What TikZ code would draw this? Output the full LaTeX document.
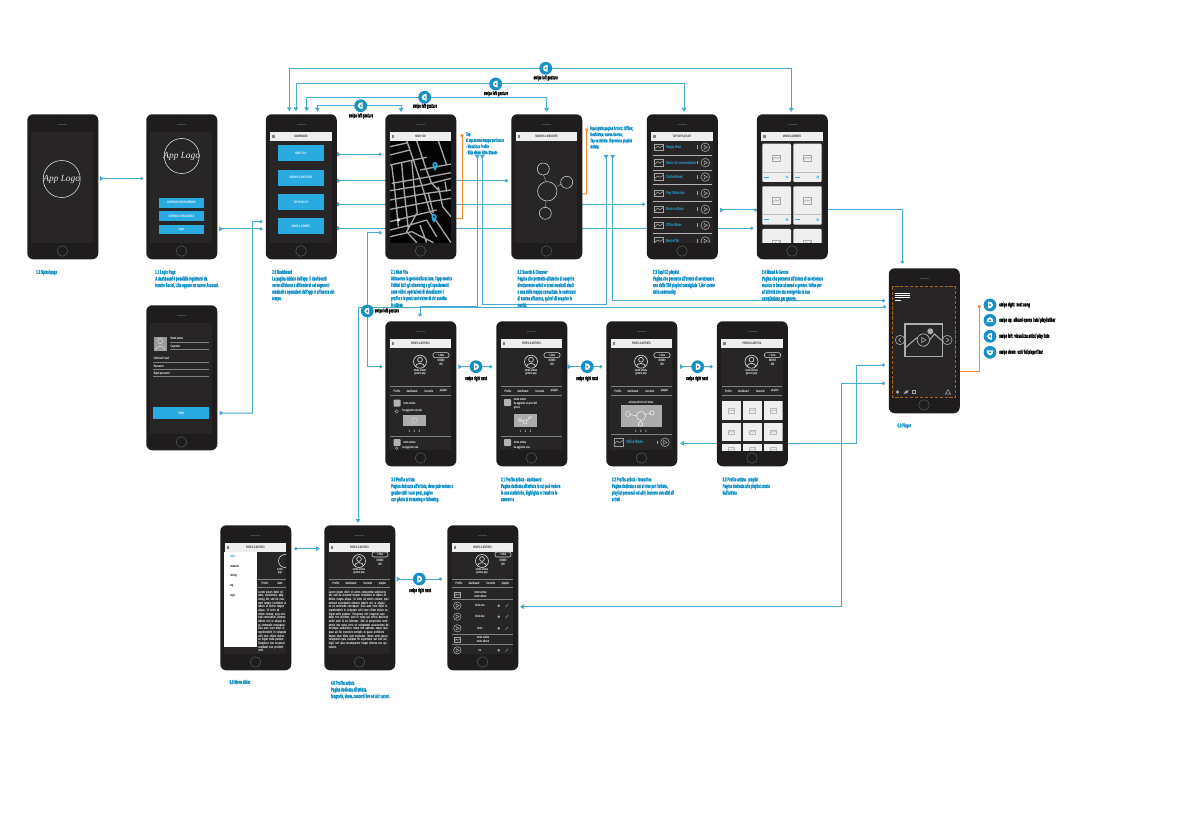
\documentclass[tikz,border=0pt]{standalone}
\usepackage{fontspec}
\setmainfont{Liberation Sans}
\newfontfamily\cf[FakeStretch=0.62]{Liberation Sans}
\newfontfamily\cfn[FakeStretch=0.5,BoldFeatures={FakeStretch=0.5,FakeBold=0.6}]{Liberation Sans}
\newfontfamily\logofont{Liberation Serif}
\usetikzlibrary{arrows.meta}
\pgfdeclarelayer{bg}\pgfsetlayers{bg,main}
\definecolor{body}{HTML}{1E1C1D}
\definecolor{scr}{HTML}{272526}
\definecolor{lineb}{HTML}{45ABD3}
\definecolor{capb}{HTML}{0E8FC8}
\definecolor{btn}{HTML}{29ABE2}
\definecolor{badgeb}{HTML}{1690C5}
\definecolor{orng}{HTML}{F28C28}
\definecolor{hdr}{HTML}{EEEEEE}
\definecolor{tile}{HTML}{EFEFEF}
\newcounter{lbc}
\tikzset{
  phonebody/.style={fill=body,rounded corners=4.5pt,minimum width=53.25pt,minimum height=108.75pt,inner sep=0pt,anchor=north west,draw=none},
  conn/.style={draw=lineb,line width=.75pt},
  tiprc/.style={{Triangle[reversed,length=3pt,width=3.4pt]}-{Circle[length=2.4pt]}},
  tipnc/.style={{Triangle[length=3pt,width=3.4pt]}-{Circle[length=2.4pt]}},
  tiptt/.style={{Triangle[length=3pt,width=3.4pt]}-{Triangle[length=3pt,width=3.4pt]}},
  tiprt/.style={{Triangle[reversed,length=3pt,width=3.4pt]}-{Triangle[reversed,length=3pt,width=3.4pt]}},
  tipct/.style={{Circle[length=2.4pt]}-{Triangle[length=3pt,width=3.4pt]}},
  tipcc/.style={{Circle[length=2.4pt]}-{Circle[length=2.4pt]}},
  tipcr/.style={{Circle[length=2.4pt]}-{Triangle[reversed,length=3pt,width=3.4pt]}},
  oconn/.style={draw=orng,line width=.75pt},
  caption/.style={anchor=north west,inner sep=0pt,align=left,text=capb,font=\cfn\bfseries\fontsize{4.3}{4.95}\selectfont},
  note/.style={anchor=north west,inner sep=0pt,align=left,text=capb,font=\cfn\bfseries\fontsize{3.9}{4.6}\selectfont},
  swipe/.style={inner sep=0pt,text=black,font=\cfn\bfseries\fontsize{4.3}{5}\selectfont},
  badgest/.style={circle,fill=badgeb,minimum size=9.6pt,inner sep=0pt},
  lb/.style={inner sep=0pt,font=\cf\bfseries\fontsize{2.5}{3}\selectfont},
  logotxt/.style={inner sep=0pt,text=white!90!black,font=\logofont\itshape\fontsize{7}{8}\selectfont},
  loremst/.style={anchor=north west,inner sep=0pt,text=white,font=\cf\bfseries\fontsize{2.65}{2.75}\selectfont,align=left},
}
% position from the north-west corner of a phone, in reference pixels
\newcommand{\Pt}[3]{([shift={(#2,#3)}]#1.north west)}
\newcommand{\lbl}[4][]{\stepcounter{lbc}\node[lb,#1] (lab\thelbc) at ({#2},{#3}) {#4};}
\newcommand{\phone}[3]{%
  \node[phonebody] (#1) at (#2,#3) {};
  \begin{scope}[shift={(#2,#3)}]
    \fill[scr] (4.2,18.3) rectangle (66.2,129);
    \fill[black!70!body] (35.5,5) circle (.5);
    \draw[black!45!gray,line width=.4pt] (31,10) -- (40,10);
    \fill[black!45!gray] (27,10) circle (.4);
    \draw[black!30!gray,line width=.4pt] (35.5,137) circle (5.3);
  \end{scope}}
\newcommand{\header}[1]{%
  \fill[hdr] (4.5,18.3) rectangle (66,26.7);
  \fill[gray] (6.5,21) rectangle (9,24.2);
  \lbl[text=black!85]{35.5}{22.6}{#1}}
\newcommand{\imgic}[5]{% x y w h colour : centre
  \begin{scope}[shift={({#1},{#2})}]
    \draw[#5,line width=.45pt] (-#3,-#4) rectangle (#3,#4);
    \draw[#5,line width=.45pt] (-#3,#4*.45) -- (-#3*.3,-#4*.3) -- (#3*.2,#4*.1) -- (#3,-#4*.5);
  \end{scope}}
\newcommand{\playic}[4]{%
  \draw[#4,line width=.45pt] (#1,#2) circle (#3);
  \draw[#4,line width=.4pt] (#1-#3*.3,#2-#3*.45) -- (#1+#3*.5,#2) -- (#1-#3*.3,#2+#3*.45) -- cycle;}
% #1 vertical offset of the avatar block, #2 and #3 the rules round the tabs
\newcommand{\profile}[3]{%
  \header{PROFILO ARTISTA}
  \begin{scope}[shift={(0,#1)}]
  \draw[white!85!black,line width=.5pt] (35,40.7) circle (6.5);
  \draw[white!85!black,line width=.5pt] (35,38.7) circle (2.4);
  \draw[white!85!black,line width=.5pt] (30.5,45.7) arc (180:360:4.5 and 3.4);
  \draw[white!85!black,line width=.4pt,rounded corners=1.5pt] (48,31.7) rectangle (64,36.7);
  \lbl[text=white]{56}{34.2}{+ Ama}
  \lbl[text=white]{56}{39.7}{000000}
  \lbl[text=white]{56}{43.7}{000}
  \lbl[text=white]{35}{49}{nome artista}
  \lbl[text=white]{35}{53}{genere pop}
  \end{scope}
  \draw[gray,line width=.4pt] (5,#2) -- (65.5,#2);
  \draw[gray,line width=.4pt] (5,#3) -- (65.5,#3);
  \lbl[text=white,align=center]{12}{(#2+#3)/2}{Profilo}
  \lbl[text=white,align=center]{27}{(#2+#3)/2}{dashboard}
  \lbl[text=white,align=center]{44}{(#2+#3)/2}{favourite}
  \lbl[text=white,align=center]{58.5}{(#2+#3)/2}{playlist}}
\newcommand{\badge}[4]{%
  \node[badgest] (#1) at (#2,#3) {};
  \begin{scope}[shift={(#2,#3)},rotate=#4]
    \fill[white] (-1.9,-3.5) arc (-90:90:5 and 3.5) -- cycle;
    \fill[badgeb] (-.7,-1.6) -- (1.1,0) -- (-.7,1.6) -- cycle;
  \end{scope}}
\newcommand{\loremtxt}{Lorem ipsum dolor sit amet, consectetur adipiscing elit, sed do eiusmod tempor incididunt ut labore et dolore magna aliqua. Ut enim ad minim veniam, quis nostrud exercitation ullamco laboris nisi ut aliquip ex ea commodo consequat. Duis aute irure dolor in reprehenderit in voluptate velit esse cillum dolore eu fugiat nulla pariatur. Excepteur sint occaecat cupidatat non proident, sunt in culpa qui officia deserunt mollit anim id est laborum. Sed ut perspiciatis unde omnis iste natus error sit voluptatem accusantium doloremque laudantium, totam rem aperiam, eaque ipsa quae ab illo inventore veritatis et quasi architecto beatae vitae dicta sunt explicabo. Nemo enim ipsam voluptatem quia voluptas sit aspernatur aut odit aut fugit, sed quia consequuntur magni dolores eos qui ratione.}
\newcommand{\loremshort}{Lorem ipsum dolor sit amet, consectetur adipiscing elit, sed do eiusmod tempor incididunt ut labore et dolore magna aliqua. Ut enim ad minim veniam, quis nostrud exercitation ullamco laboris nisi ut aliquip ex ea commodo consequat. Duis aute irure dolor in reprehenderit in voluptate velit esse cillum dolore eu fugiat nulla pariatur. Excepteur sint occaecat cupidatat non proident sunt.}
\begin{document}
\begin{tikzpicture}[x=.75pt,y=-.75pt]
\useasboundingbox (0,0) rectangle (1200,813);
\begin{pgfonlayer}{bg}
\fill[white] (0,0) rectangle (1200,813);
\end{pgfonlayer}

% ---------- phones ----------
\phone{splash}{27}{114}
\phone{login}{146}{114}
\phone{reg}{146}{305}
\phone{dash}{265.5}{114}
\phone{near}{385}{114}
\phone{search}{511}{114}
\phone{top}{646.5}{114}
\phone{mixed}{756.5}{114}
\phone{player}{888.5}{268}
\phone{pa}{385}{321}
\phone{pb}{496}{321}
\phone{pc}{606}{321}
\phone{pd}{716.5}{321}
\phone{menu}{220}{525}
\phone{bio}{324}{525}
\phone{list}{447}{525}

% splash
\begin{scope}[shift={(27,114)}]
  \draw[white!85!black,line width=.45pt] (34.7,65) circle (18.5);
  \node[logotxt] (splogo) at (34.7,65) {App Logo};
\end{scope}
% login
\begin{scope}[shift={(146,114)}]
  \draw[white!85!black,line width=.45pt] (35.7,42) circle (17.5);
  \node[logotxt] (lglogo) at (35.7,42) {App Logo};
  \fill[btn] (12.7,83.7) rectangle (58,93.7);
  \fill[btn] (12.7,97.3) rectangle (58,107);
  \fill[btn] (12.7,110.7) rectangle (58,120.3);
  \lbl[text=white]{35.4}{88.7}{CONTINUA CON FACEBOOK}
  \lbl[text=white]{35.4}{102.2}{CONTINUA CON GOOGLE}
  \lbl[text=white]{35.4}{115.5}{Login}
\end{scope}
% registration
\begin{scope}[shift={(146,305)}]
  \fill[gray!80] (8,31.7) rectangle (20.7,45.7);
  \draw[gray!30,line width=.4pt] (14.3,36) circle (2.6);
  \draw[gray!30,line width=.4pt] (9.5,45.5) arc (180:360:4.8 and 4.5);
  \foreach \yy/\xa in {37/24,44.7/24,57/7,64/7,71/7}{\draw[gray,line width=.35pt] (\xa,\yy) -- (63,\yy);}
  \lbl[text=white,anchor=west]{24.3}{33.5}{Nome utente}
  \lbl[text=white,anchor=west]{24.3}{41.5}{Cognome}
  \lbl[text=white,anchor=west]{7.5}{53.5}{Indirizzo E-mail}
  \lbl[text=white,anchor=west]{7.5}{61.5}{Password}
  \lbl[text=white,anchor=west]{7.5}{68.5}{Ripeti password}
  \fill[btn] (7.3,102) rectangle (63.3,114);
  \lbl[text=white]{35.3}{108}{CREA}
\end{scope}
% dashboard
\begin{scope}[shift={(265.5,114)}]
  \header{DASHBOARD}
  \fill[btn] (12.5,31.3) rectangle (58,47.3);
  \fill[btn] (12.5,55.7) rectangle (58,71.7);
  \fill[btn] (12.5,80) rectangle (58,96);
  \fill[btn] (12.5,104.3) rectangle (58,120.3);
  \lbl[text=white]{35.3}{39.3}{NEAR YOU}
  \lbl[text=white]{35.3}{63.7}{SEARCH \& DISCOVER}
  \lbl[text=white]{35.3}{88}{TOP PLAYLIST}
  \lbl[text=white]{35.3}{112.3}{MIXED \& GENRES}
\end{scope}
% near you (map drawn in crop pixels)
\begin{scope}[shift={(385,114)}]
  \header{NEAR YOU}
  \begin{scope}[shift={(-125,-64)},x=.25pt,y=-.25pt]
    \fill[black!85!body] (390,272) rectangle (573,578);
    \begin{scope}
      \clip (390,272) rectangle (573,578);
      \draw[gray!70,line width=1pt,line join=round]
        (390,290) -- (445,278)
        (390,315) -- (450,300)
        (390,345) -- (460,330) -- (500,322)
        (440,272) -- (462,335) -- (482,395) -- (510,485) -- (573,578)
        (470,272) -- (500,362) -- (515,400) -- (535,420)
        (535,272) -- (560,345)
        (480,360) -- (573,342)
        (395,400) -- (482,385) -- (573,368)
        (390,422) -- (495,405) -- (573,385)
        (390,450) -- (500,430) -- (573,420)
        (390,478) -- (510,455) -- (573,445)
        (390,515) -- (470,495) -- (530,480)
        (395,345) -- (402,400) -- (410,478) -- (415,530)
        (425,340) -- (432,420) -- (440,490) -- (445,540)
        (455,330) -- (462,410) -- (472,490)
        (505,430) -- (520,490)
        (535,410) -- (548,470) -- (573,500)
        (555,395) -- (560,425)
        (390,540) -- (450,525) -- (500,510)
        (390,560) -- (455,545) -- (520,578)
        (470,490) -- (440,545) -- (470,578)
        (480,525) -- (500,578)
        (500,510) -- (530,560);
      \fill[white] (415,510) circle (5);
    \end{scope}
  \end{scope}
  \fill[btn] (50,57) .. controls (46.5,52) and (46.5,48) .. (50,48) .. controls (53.5,48) and (53.5,52) .. (50,57);
  \fill[scr] (50,50.8) circle (1.1);
  \fill[btn] (49,109) .. controls (45.5,104) and (45.5,100) .. (49,100) .. controls (52.5,100) and (52.5,104) .. (49,109);
  \fill[scr] (49,102.8) circle (1.1);
\end{scope}
% search
\begin{scope}[shift={(511,114)}]
  \header{SEARCH \& DISCOVER}
  \draw[gray!60,line width=.3pt] (32.5,61) -- (35,67.5) (46,72) -- (50.5,70) (35,87) -- (34.5,93.5);
  \draw[white!85!black,line width=.4pt] (36.3,77.3) circle (9.7);
  \draw[white!85!black,line width=.4pt] (32.3,55) circle (6);
  \draw[white!85!black,line width=.4pt] (55.7,68.3) circle (6);
  \draw[white!85!black,line width=.4pt] (34.3,99.3) circle (6);
\end{scope}
% top playlist
\begin{scope}[shift={(646.5,114)}]
  \header{TOP ICE PLAYLIST}
  \begin{scope}
  \clip (4.2,26.7) rectangle (66.2,129);
  \foreach \yy/\ttl in {33.3/Happy Hour,48.7/Music for concentration,63/Coffee Break,79.3/Pop Collection,95.3/Rock on Bass,111.3/Office Blues,127/Best of 90}{
    \imgic{12.5}{\yy}{4.3}{3.4}{gray!70}
    \stepcounter{lbc}
    \node[inner sep=0pt,anchor=west,text=btn,font=\cf\bfseries\fontsize{3.2}{4}\selectfont] (lab\thelbc) at (19.5,\yy) {\ttl};
    \draw[gray!70,line width=.35pt] (50.8,\yy-1.8) -- (50.8,\yy+1.8);
    \playic{58.8}{\yy}{4.3}{gray!70}
    \draw[gray!60,line width=.3pt] (6,\yy+7.5) -- (65,\yy+7.5);
  }
  \end{scope}
\end{scope}
% mixed
\begin{scope}[shift={(756.5,114)}]
  \header{MIXED \& GENRES}
  \begin{scope}
  \clip (4.2,26.7) rectangle (66.2,128.3);
  \foreach \xa/\xb in {5.8/34.5,36.8/65.2}{
    \foreach \ya/\yb in {29.7/68,72.3/110.7,115/145}{
      \fill[tile,rounded corners=.8pt] (\xa,\ya) rectangle (\xb,\yb);
      \imgic{(\xa+\xb)/2}{\ya+14.5}{4}{3.2}{gray!70}
      \draw[gray!50,line width=.25pt] (\xa,\ya+28) -- (\xb,\ya+28);
      \fill[btn] (\xa+1.5,\ya+32.9) rectangle (\xa+7,\ya+33.8);
      \draw[btn,line width=.3pt] (\xb-4,\ya+33.4) circle (1.2);
    }
  }
  \end{scope}
\end{scope}
% player
\begin{scope}[shift={(888.5,268)}]
  \draw[orng!70!black,dash pattern=on 2.5pt off 1.2pt,line width=.35pt] (3.8,18.7) rectangle (66.5,129.3);
  \foreach \yy in {25.3,26.9,28.5}{\fill[white] (6.5,\yy) rectangle (21.5,\yy+.9);}
  \fill[white] (6.5,32) rectangle (12,33);
  \draw[gray!65,line width=.8pt] (16.5,56) rectangle (53.8,88.7);
  \draw[gray!65,line width=.8pt] (16.5,80) -- (28,70) -- (36,78) -- (46,66) -- (53.8,73);
  \fill[gray!65] (41.8,63.3) circle (3);
  \fill[scr] (34.8,72) circle (6.2);
  \draw[gray!70,line width=.6pt] (34.8,72) circle (6.2);
  \draw[gray!70,line width=.5pt] (33.3,69.5) -- (37.3,72) -- (33.3,74.5) -- cycle;
  \fill[scr] (11.5,72) circle (4.7);
  \draw[gray!70,line width=.5pt] (11.5,72) circle (4.7);
  \draw[gray!70,line width=.5pt] (12.5,70) -- (10,72) -- (12.5,74);
  \fill[scr] (58.8,72) circle (4.7);
  \draw[gray!70,line width=.5pt] (58.8,72) circle (4.7);
  \draw[gray!70,line width=.5pt] (57.8,70) -- (60.3,72) -- (57.8,74);
  \fill[gray!70] (9,124) circle (1.8);
  \fill[gray!70] (17,123) -- (20,122) -- (19,125) -- (15,126) -- cycle;
  \draw[gray!70,line width=.3pt] (24,122.5) rectangle (27,125);
  \draw[gray!70,line width=.4pt] (57,126) -- (59.5,121.5) -- (62,126) -- cycle;
\end{scope}
% profile screens
\begin{scope}[shift={(385,321)}]
  \profile{0}{65}{74.7}
  \fill[gray!60,rounded corners=.6pt] (8.5,78.5) rectangle (15.5,85.5);
  \draw[gray!60,line width=.3pt] (11.7,90.5) circle (1.7);
  \lbl[text=white,anchor=west]{18}{82}{nome utente}
  \lbl[text=white,anchor=west]{17}{89.5}{ha aggiunto un post}
  \fill[gray!65] (18.3,94) rectangle (41,105);
  \draw[gray!30,line width=.3pt] (29.6,99.5) circle (2.7);
  \lbl[text=white]{29.5}{110}{1 \quad 2 \quad 3}
  \draw[gray,line width=.35pt] (5,115) -- (65.5,115);
  \fill[gray!60,rounded corners=.6pt] (8.5,118) rectangle (15.5,125);
  \lbl[text=white,anchor=west]{18}{121.5}{nome artista}
  \draw[gray!60,line width=.3pt] (11.7,127.3) circle (1.3);
  \lbl[text=white,anchor=west]{17}{127}{ha aggiunto una}
\end{scope}
\begin{scope}[shift={(496,321)}]
  \profile{0}{65}{74.7}
  \fill[gray!60,rounded corners=.6pt] (8,78) rectangle (15,85);
  \lbl[text=white,anchor=west,align=left]{17.5}{83}{nome utente\\ha aggiunto un post del\\giorno}
  \fill[gray!65] (18,93.3) rectangle (40.7,105.7);
  \draw[white,line width=.25pt] (24,99) circle (1.6) (29,101) circle (2) (34,96.5) circle (1.5) (25.5,99.5) -- (27,100.5) (30.5,99.5) -- (33,97.5);
  \lbl[text=white]{29.5}{110}{1 \quad 2 \quad 3}
  \draw[gray,line width=.35pt] (5,115) -- (65.5,115);
  \fill[gray!60,rounded corners=.6pt] (8,118) rectangle (15,125);
  \lbl[text=white,anchor=west]{17.5}{121.5}{nome artista}
  \lbl[text=white,anchor=west]{17.5}{127}{ha aggiunto una}
\end{scope}
\begin{scope}[shift={(606,321)}]
  \profile{0}{65}{74.7}
  \lbl[text=white]{35}{81.5}{artista preferito del mese}
  \fill[gray!65] (15,84) rectangle (55.7,105.7);
  \draw[white,line width=.3pt] (22,93) circle (2.5) (35,95) circle (4.5) (46,92) circle (2.2) (34.5,103) circle (2.2) (24.5,93.5) -- (30.5,95) (39,93.5) -- (44,92.3) (35,99.5) -- (34.7,100.8);
  \lbl[text=white]{35}{110}{1 \quad 2 \quad 3}
  \draw[gray,line width=.35pt] (5,113) -- (65.5,113);
  \imgic{12.5}{121.3}{4.5}{3.6}{gray!80}
  \node[inner sep=0pt,anchor=west,text=btn,font=\cf\bfseries\fontsize{3.5}{4}\selectfont] (offblue) at (20,121.3) {Office Blues};
  \draw[gray!70,line width=.35pt] (50.8,119.5) -- (50.8,123.1);
  \playic{59}{121.3}{4.3}{gray!70}
\end{scope}
\begin{scope}[shift={(716.5,321)}]
  \profile{0}{65}{74.7}
  \begin{scope}
  \clip (4.2,74.9) rectangle (66.2,129);
  \foreach \xa/\xb in {5.2/24.5,26.2/45.5,47.5/66.5}{
    \foreach \ya/\yb in {80.3/99,101.7/120.3,122.7/135}{
      \fill[tile] (\xa,\ya) rectangle (\xb,\yb);
      \imgic{(\xa+\xb)/2}{(\ya+\yb)/2}{2.8}{2.2}{gray!55}
    }
  }
  \end{scope}
\end{scope}
% biography
\begin{scope}[shift={(324,525)}]
  \profile{-4.7}{54.3}{62.3}
  \node[loremst,text width=45.5pt] (biotxt) at (4.5,65.5) {\loremtxt};
\end{scope}
% side menu over the profile
\begin{scope}[shift={(220,525)}]
  \header{PROFILO ARTISTA}
  \begin{scope}
    \clip (36.7,26.7) rectangle (66.2,129);
    \draw[white!85!black,line width=.5pt] (65,36) circle (6.5);
  \end{scope}
  \lbl[text=white]{60}{44.3}{nome}
  \lbl[text=white]{60}{48.3}{pop}
  \draw[gray,line width=.4pt] (36.7,54.3) -- (65.5,54.3) (36.7,62.3) -- (65.5,62.3);
  \lbl[text=white]{45}{58.3}{Profilo}
  \lbl[text=white]{60}{58.3}{dash}
  \node[loremst,text width=21.5pt] (menutxt) at (38,65.5) {\loremshort};
  \fill[white] (4.3,26.7) rectangle (36.7,121.7);
  \lbl[text=capb,anchor=west]{10}{31}{radio}
  \lbl[text=black,anchor=west]{10}{41}{weekend}
  \lbl[text=black,anchor=west]{10}{51}{mixing}
  \lbl[text=black,anchor=west]{10}{61}{top}
  \lbl[text=black,anchor=west]{10}{71}{style}
\end{scope}
% album list
\begin{scope}[shift={(447,525)}]
  \profile{-4.7}{54.3}{62.3}
  \imgic{10.3}{70}{3}{2.5}{gray!70}
  \lbl[text=white,anchor=west,align=left]{27}{69.5}{nome artista\\nome album}
  \draw[gray,line width=.35pt] (5,74.3) -- (65.5,74.3) (5,109) -- (65.5,109) (5,119.3) -- (65.5,119.3);
  \foreach \yy/\ttl in {80.7/titolo uno,91.7/titolo due,103.3/titolo,125.3/tre}{
    \playic{10.3}{\yy}{3.7}{gray!70}
    \lbl[text=white]{33}{\yy}{\ttl}
    \fill[gray!70] (51.7,\yy) circle (1.4);
    \draw[gray!70,line width=.3pt] (58.5,\yy+1.5) -- (61,\yy-1.5);
  }
  \imgic{10.3}{115}{3}{2.5}{gray!70}
  \lbl[text=white,align=center]{36}{114}{nome artista\\nome album}
\end{scope}

% ---------- captions ----------
\node[caption] (capsplash) at (36,269.5) {1.0 Splashpage};
\node[caption] (caplogin) at (155,269.5) {1.1 Login Page\\A dashboard è possibile registrarsi da\\tramite Social, Like oppure un nuovo Account.};
\node[caption] (capdash) at (272,269.5) {2.0 Dashboard\\La pagina iniziale dell'app: il dashboard\\serve all'utente a diffondersi nei segmenti\\musicali e operazioni dell'app in affluenza del\\tempo.};
\node[caption] (capnear) at (390.7,269.5) {2.1 Near You\\Attraverso la geolocalizzazione, l'app mostra\\l'ultimi tutti gli streaming e gli spostamenti\\zone vicini, operazioni di visualizzare il\\profilo e le posizioni vicine di chi ascolta\\in attesa};
\node[caption] (capsearch) at (517.3,269.5) {2.2 Search \& Discover\\Pagina che permette all'utente di scoprire\\direttamente artisti e brani musicali simili\\a una delle mappe consultate, le costruisci\\di scarsa affluenza, quindi di scoprire le\\novità.};
\node[caption] (captop) at (652.7,269.5) {2.3 Top/ICE playlist\\Pagina che permette all'utente di selezionare\\una delle 100 playlist consigliate `Like' create\\dalla community.};
\node[caption] (capmixed) at (761.7,269.5) {2.4 Mixed \& Genres\\Pagina che permette all'utente di selezionare\\musica in base al mood e genere. Infine per\\all'attività che sta svolgendo la sua\\compilazione per genere.};
\node[caption] (cappa) at (391,477) {3.0 Profilo artista\\Pagina dedicata all'artista, dove può vedere e\\gestire tutti i suoi post, pagine\\con photo \& streaming e following.};
\node[caption] (cappb) at (500.7,477) {3.1 Profilo artista - dashboard\\Pagina dedicata all'artista in cui può vedere\\le sue statistiche, highlights e trend tra le\\canzoni e};
\node[caption] (cappc) at (611.7,477) {3.2 Profilo artista - favourites\\Pagina dedicata a cui si vive per l'artista,\\playlist personali ed altri, insieme con altri all\\artisti};
\node[caption] (cappd) at (722.3,477) {3.3 Profilo artista - playlist\\Pagina dedicata alle playlist create\\dall'artista};
\node[caption] (capplayer) at (897.3,423) {5.0 Player};
\node[caption] (capmenu) at (229.3,679.5) {6.0 Menu slider};
\node[caption] (capbio) at (330.7,680.5) {4.0 Profilo artista\\Pagina dedicata all'artista.\\biografia, show, concerti live ed altri autori.};
\node[note] (notenear) at (465.7,132) {Tap\\al tap su una mappa per lancio\\- Visualizza Profilo\\- Skip video/ altro Stream};
\node[note] (notesearch) at (590,126) {Input grafo pagina Artista: Offline;\\Doubletap: nuova ricerca;\\Tap su Artista: Riproduce playlist\\Artista;};

% ---------- gesture badges ----------
\badge{bga}{360.7}{105.7}{180}
\badge{bgb}{424.7}{97.3}{180}
\badge{bgc}{495.7}{84}{180}
\badge{bgd}{545.7}{68.3}{180}
\badge{bge}{367.3}{311}{180}
\badge{bgf}{476}{366.7}{0}
\badge{bgg}{587.3}{366.7}{0}
\badge{bgh}{697.7}{366.7}{0}
\badge{bgi}{419.3}{579}{0}
\badge{bgj}{990}{305}{0}
\badge{bgk}{990}{320.3}{90}
\badge{bgl}{990}{336.3}{180}
\badge{bgm}{990}{352.3}{-90}
\node[swipe] (slab) at (361,116) {swipe left gesture};
\node[swipe] (slbb) at (425,106.3) {swipe left gesture};
\node[swipe] (slbc) at (496,93.7) {swipe left gesture};
\node[swipe] (slbd) at (545.7,78) {swipe left gesture};
\node[swipe,anchor=west] (slbe) at (374.5,311) {swipe left gesture};
\node[swipe] (slbf) at (476,378.7) {swipe right next};
\node[swipe] (slbg) at (587,378.7) {swipe right next};
\node[swipe] (slbh) at (697,378.7) {swipe right next};
\node[swipe] (slbi) at (420,590.7) {swipe right next};
\node[swipe,anchor=west] (slbj) at (999,305) {swipe right: next song};
\node[swipe,anchor=west] (slbk) at (999,320.3) {swipe up: album/ opens lists/ playlist/bar};
\node[swipe,anchor=west] (slbl) at (999,336.3) {swipe left: visualizza artist/ play liste};
\node[swipe,anchor=west] (slbm) at (999,352.3) {swipe down: exit/ fullplayer/ bar};

% ---------- connectors ----------
\begin{pgfonlayer}{bg}
\path[conn,tiprc] \Pt{splash}{73}{64.5} -- \Pt{login}{-3}{64.5};
\path[conn,tiprc] \Pt{login}{73}{115} -- \Pt{dash}{-3}{115};
\path[conn,tiprc] \Pt{reg}{73.5}{108} -- ++(33,0) -- ++(0,-191.3) -- \Pt{dash}{-3}{107.7};
\path[conn,tiprc] \Pt{dash}{71.5}{40.3} -- \Pt{near}{-3.5}{40.3};
\path[conn,tiprc] \Pt{dash}{71.5}{66.7} -- \Pt{search}{-3}{66.7};
\path[conn,tiprc] \Pt{dash}{71.5}{90.3} -- \Pt{top}{-1.5}{90.3};
\path[conn,tiprc] \Pt{dash}{71.5}{114.3} -- \Pt{mixed}{-3.2}{114.3};
\path[conn,tiprc] \Pt{top}{73.5}{96} -- \Pt{mixed}{.5}{96};
\path[conn,-{Circle[length=2.4pt]}] \Pt{mixed}{70.5}{96} -| \Pt{player}{13.8}{-4.7};
\path[conn,tiptt] \Pt{dash}{51.8}{-2.3} -- ++(0,-6) -| \Pt{near}{16}{-2};
\path[conn,tiptt] \Pt{dash}{41.2}{-2.7} -- ++(0,-14) -| \Pt{search}{35.7}{-2};
\path[conn,tiptt] \Pt{dash}{30.5}{-2.7} -- ++(0,-27.3) -| \Pt{top}{37.5}{-2};
\path[conn,tiptt] \Pt{dash}{23.8}{-2.7} -- ++(0,-43) -| \Pt{mixed}{34.8}{-2};
\path[oconn,tipcr] \Pt{near}{77}{20} -- ++(0,84.3) -- \Pt{near}{58}{104.3};
\path[oconn,tipcr] \Pt{search}{75.7}{14.3} -- ++(0,65.7) -- \Pt{search}{50.7}{80};
\path[conn,tiprc] \Pt{near}{92.3}{41} -- ++(0,151.7) -| \Pt{pa}{35}{-4.7};
\path[conn,tiprt] \Pt{near}{97.3}{41} -- ++(0,149.3) -| \Pt{search}{95}{41};
\path[conn,tiprc] \Pt{search}{101.7}{41} -- ++(0,145.7) -- \Pt{player}{-3.5}{32.7};
\path[conn,tipct] \Pt{player}{-2.5}{39} -| \Pt{bio}{34}{-2};
\path[conn,tipcc] \Pt{near}{-3.3}{118.7} -- ++(-14.4,0) |- \Pt{pa}{-2.7}{45.7};
\path[conn,tiprc] \Pt{pa}{73.3}{45.7} -- \Pt{pb}{-3.7}{45.7};
\path[conn,tiprc] \Pt{pb}{71.7}{45.7} -- \Pt{pc}{-3.7}{45.7};
\path[conn,tiprc] \Pt{pc}{74}{45.7} -- \Pt{pd}{-3.8}{45.7};
\path[conn,tipnc] \Pt{pc}{74}{122.3} -- ++(176.7,0) |- \Pt{player}{-3.5}{97};
\path[conn,tipnc] \Pt{list}{73}{81.7} -- ++(321.7,0) |- \Pt{player}{-3.5}{115.3};
\path[conn,tipnc] \Pt{bio}{-4}{23.7} -- \Pt{menu}{74.3}{23.7};
\path[conn,tiprc] \Pt{bio}{72.7}{54} -- \Pt{list}{-5}{54};
\path[oconn,tiprc] \Pt{player}{66.5}{103} -- ++(24.3,0) -- ++(0,-66);
\end{pgfonlayer}
\end{tikzpicture}
\end{document}
